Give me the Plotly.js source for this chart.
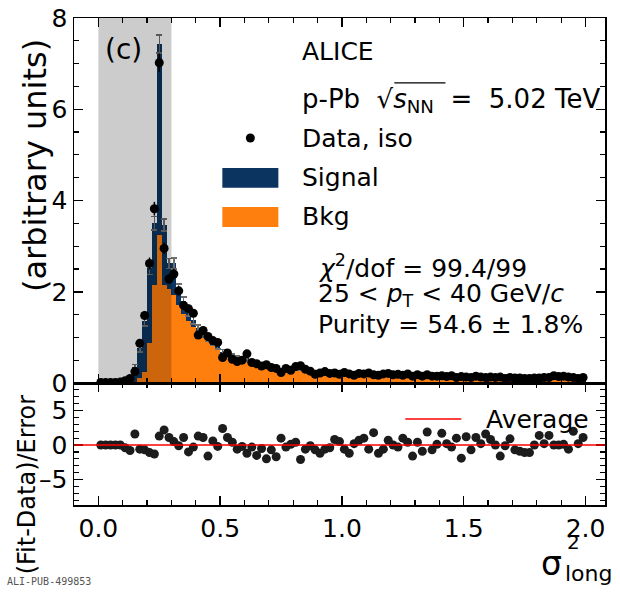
<!DOCTYPE html>
<html>
<head>
<meta charset="utf-8">
<script src="https://cdn.plot.ly/plotly-3.0.1.min.js"></script>
<style>
  body { margin: 0; background: #fff; }
  #graphique { width: 620px; height: 592px; }
</style>
</head>
<body>
<div id="graphique"></div>
<script>
// binning: 100 bins of 0.02 from 0 to 2
var binLow = 0.0;
var binWidth = 0.02;

// data points (per bin)
var dataVals = [
  0.01, 0.01, 0.01, 0.01, 0.02, 0.05, 0.10, 0.25, 0.87, 1.48,
  2.62, 3.82, 7.02, 2.95, 2.28, 2.39, 2.02, 1.70, 1.63, 1.53,
  1.05, 1.15, 1.02, 0.93, 0.89, 0.56, 0.66, 0.52, 0.47, 0.50,
  0.64, 0.45, 0.42, 0.37, 0.40, 0.34, 0.32, 0.23, 0.32, 0.28,
  0.36, 0.38, 0.30, 0.26, 0.19, 0.22, 0.25, 0.21, 0.22, 0.19,
  0.23, 0.20, 0.17, 0.21, 0.20, 0.22, 0.18, 0.17, 0.20, 0.21,
  0.18, 0.19, 0.17, 0.20, 0.15, 0.18, 0.15, 0.18, 0.15, 0.15,
  0.16, 0.14, 0.16, 0.12, 0.14, 0.13, 0.12, 0.15, 0.13, 0.12,
  0.13, 0.12, 0.13, 0.10, 0.12, 0.11, 0.11, 0.10, 0.10, 0.11,
  0.11, 0.12, 0.12, 0.16, 0.14, 0.15, 0.13, 0.12, 0.10, 0.12
];

// erreurs stat (data et fit)
var dataErr = [
  0.01, 0.01, 0.01, 0.01, 0.01, 0.02, 0.03, 0.05, 0.08, 0.10,
  0.13, 0.15, 0.20, 0.13, 0.11, 0.12, 0.10, 0.09, 0.09, 0.09,
  0.07, 0.08, 0.07, 0.07, 0.07, 0.06, 0.06, 0.05, 0.05, 0.05,
  0.06, 0.05, 0.05, 0.05, 0.05, 0.05, 0.04, 0.04, 0.04, 0.04,
  0.05, 0.05, 0.04, 0.04, 0.04, 0.04, 0.04, 0.04, 0.04, 0.04,
  0.04, 0.04, 0.03, 0.04, 0.04, 0.04, 0.03, 0.03, 0.03, 0.04,
  0.03, 0.03, 0.03, 0.03, 0.03, 0.03, 0.03, 0.03, 0.03, 0.03,
  0.03, 0.03, 0.03, 0.03, 0.03, 0.03, 0.03, 0.03, 0.03, 0.03,
  0.03, 0.03, 0.03, 0.03, 0.03, 0.03, 0.03, 0.03, 0.03, 0.03,
  0.03, 0.03, 0.03, 0.03, 0.03, 0.03, 0.03, 0.03, 0.03, 0.03
];

// background template
var bkgVals = [
  0.00, 0.00, 0.00, 0.00, 0.00, 0.00, 0.01, 0.03, 0.12, 0.25,
  0.87, 2.15, 3.25, 2.15, 2.05, 1.93, 1.72, 1.52, 1.36, 1.22,
  1.08, 0.98, 0.90, 0.82, 0.75, 0.62, 0.60, 0.55, 0.50, 0.48,
  0.50, 0.44, 0.40, 0.37, 0.36, 0.32, 0.30, 0.25, 0.28, 0.26,
  0.30, 0.30, 0.27, 0.24, 0.20, 0.21, 0.22, 0.20, 0.20, 0.18,
  0.20, 0.18, 0.16, 0.18, 0.18, 0.19, 0.16, 0.16, 0.17, 0.18,
  0.16, 0.17, 0.15, 0.17, 0.14, 0.15, 0.14, 0.15, 0.14, 0.13,
  0.14, 0.13, 0.14, 0.11, 0.12, 0.12, 0.11, 0.13, 0.11, 0.11,
  0.11, 0.11, 0.11, 0.09, 0.10, 0.10, 0.10, 0.09, 0.09, 0.10,
  0.10, 0.10, 0.10, 0.13, 0.12, 0.12, 0.11, 0.10, 0.09, 0.10
];

// signal template (stacked on bkg)
var sigVals = [
  0.00, 0.00, 0.00, 0.00, 0.00, 0.02, 0.08, 0.33, 0.64, 1.10,
  1.64, 1.35, 4.18, 1.31, 0.57, 0.69, 0.35, 0.28, 0.20, 0.16,
  0.12, 0.10, 0.08, 0.07, 0.06, 0.05, 0.05, 0.04, 0.04, 0.03,
  0.04, 0.03, 0.03, 0.03, 0.03, 0.02, 0.02, 0.02, 0.02, 0.02,
  0.02, 0.02, 0.02, 0.02, 0.02, 0.02, 0.02, 0.02, 0.02, 0.02,
  0.02, 0.02, 0.02, 0.02, 0.02, 0.02, 0.02, 0.02, 0.02, 0.02,
  0.02, 0.02, 0.02, 0.02, 0.01, 0.01, 0.01, 0.01, 0.01, 0.01,
  0.01, 0.01, 0.01, 0.01, 0.01, 0.01, 0.01, 0.01, 0.01, 0.01,
  0.01, 0.01, 0.01, 0.01, 0.01, 0.01, 0.01, 0.01, 0.01, 0.01,
  0.01, 0.01, 0.01, 0.01, 0.01, 0.01, 0.01, 0.01, 0.01, 0.01
];

// (Fit-Data)/Error
var residVals = [
   0.0,  0.0,  0.0,  0.0,  0.0, -0.4, -0.8,  1.6, -0.6, -0.7,
  -1.1, -1.3,  1.3,  2.2,  1.1,  0.5, -0.1,  1.1, -1.0, -0.3,
   1.3,  1.1, -1.6,  0.6, -0.2,  2.4,  1.1,  0.4, -0.6, -0.2,
  -1.2, -0.3, -1.5, -0.5, -2.0, -0.7, -1.7,  1.0, -0.3,  0.1,
   0.4, -2.1, -0.6, -0.1, -0.7, -1.2, -0.6, -0.4,  0.8,  0.5,
  -0.6, -1.2,  0.2,  0.7,  1.0, -0.6,  1.8, -1.2, -0.6,  0.7,
   0.0, -0.3,  1.0,  0.4, -1.6,  0.4, -0.9,  1.9, -0.7,  0.1,
   1.7,  0.2, -0.3,  1.0, -1.9,  1.2, -0.7,  1.1,  0.2,  1.6,
   0.8,  0.0, -1.6, -0.1,  0.9, -0.7, -0.9, -1.1, -1.1,  0.0,
   1.4,  0.2,  1.4,  0.0,  0.0,  0.1, -0.6,  2.0,  0.2,  1.1
];

// ticks du panneau de résidus
var residTicks = [-5, 0, 5];
var residTickText = ['–5', '0', '5'];

var police = 'DejaVu Sans, sans-serif';
var couleurSignal = '#0b3560';
var couleurBkg = '#ff7f0e';

var centres = [];
for (var i = 0; i < dataVals.length; i++) {
  centres.push(binLow + binWidth * (i + 0.5));
}

var traceBkg = {
  x: centres, y: bkgVals, type: 'bar', width: binWidth,
  marker: { color: couleurBkg, line: { width: 0 } },
  xaxis: 'x', yaxis: 'y', hoverinfo: 'skip'
};

var traceSignal = {
  x: centres, y: sigVals, type: 'bar', width: binWidth,
  marker: { color: couleurSignal, line: { width: 0 } },
  error_y: { type: 'data', array: dataErr, visible: true, color: '#6e6e6e', thickness: 1.5, width: 3 },
  xaxis: 'x', yaxis: 'y', hoverinfo: 'skip'
};

var traceData = {
  x: centres, y: dataVals, mode: 'markers', type: 'scatter',
  marker: { color: '#000', size: 9 },
  error_y: { type: 'data', array: dataErr, visible: true, color: '#000', thickness: 1.5, width: 0 },
  xaxis: 'x', yaxis: 'y'
};

var traceResid = {
  x: centres, y: residVals, mode: 'markers', type: 'scatter',
  marker: { color: '#1c1c1c', size: 9 },
  xaxis: 'x2', yaxis: 'y2'
};

function axeBase(extra) {
  var a = {
    showline: true, linecolor: '#000', linewidth: 1.5, mirror: 'ticks',
    ticks: 'inside', ticklen: 9, tickwidth: 1.5, tickcolor: '#000',
    showgrid: false, zeroline: false,
    tickfont: { family: police, size: 25, color: '#000' }
  };
  for (var k in extra) a[k] = extra[k];
  return a;
}

var texte = function(t, x, y, size) {
  return { text: t, x: x, y: y, xref: 'x', yref: 'y', xanchor: 'left', yanchor: 'middle',
           showarrow: false, font: { family: police, size: size || 25, color: '#000' } };
};

var layout = {
  width: 620, height: 592,
  margin: { l: 74, r: 15, t: 18, b: 87 },
  paper_bgcolor: '#fff', plot_bgcolor: '#fff',
  showlegend: false,
  barmode: 'stack', bargap: 0,
  xaxis: axeBase({
    anchor: 'y', domain: [0, 1], range: [-0.1, 2.08], matches: 'x2',
    tick0: 0, dtick: 0.5, showticklabels: false,
    minor: { ticks: 'inside', dtick: 0.1, tick0: 0, ticklen: 5, tickwidth: 1.2, tickcolor: '#000', showgrid: false }
  }),
  yaxis: axeBase({
    anchor: 'x', domain: [0.2505, 1], range: [0, 8], tick0: 0, dtick: 2,
    minor: { ticks: 'inside', dtick: 0.5, tick0: 0, ticklen: 5, tickwidth: 1.2, tickcolor: '#000', showgrid: false }
  }),
  xaxis2: axeBase({
    anchor: 'y2', domain: [0, 1], range: [-0.1, 2.08], tick0: 0, dtick: 0.5, tickformat: '.1f',
    minor: { ticks: 'inside', dtick: 0.1, tick0: 0, ticklen: 5, tickwidth: 1.2, tickcolor: '#000', showgrid: false }
  }),
  yaxis2: axeBase({
    anchor: 'x2', domain: [0, 0.2505], range: [-8.7, 9], tickmode: 'array',
    tickvals: residTicks, ticktext: residTickText,
    minor: { ticks: 'inside', dtick: 1, tick0: 0, ticklen: 5, tickwidth: 1.2, tickcolor: '#000', showgrid: false }
  }),
  shapes: [
    // bande grise 0-0.3
    { type: 'rect', xref: 'x', yref: 'y', x0: 0, x1: 0.3, y0: 0, y1: 8,
      fillcolor: 'rgba(0,0,0,0.2)', line: { width: 0 }, layer: 'above' },
    // légende
    { type: 'circle', xref: 'x', yref: 'y', xsizemode: 'pixel', ysizemode: 'pixel',
      xanchor: 0.624, yanchor: 5.37, x0: -4.5, x1: 4.5, y0: -4.5, y1: 4.5,
      fillcolor: '#000', line: { width: 0 } },
    { type: 'rect', xref: 'x', yref: 'y', x0: 0.509, x1: 0.739, y0: 4.28, y1: 4.71,
      fillcolor: couleurSignal, line: { width: 0 } },
    { type: 'rect', xref: 'x', yref: 'y', x0: 0.509, x1: 0.739, y0: 3.42, y1: 3.86,
      fillcolor: couleurBkg, line: { width: 0 } },
    // racine carrée
    { type: 'line', xref: 'x', yref: 'y', x0: 1.215, x1: 1.425, y0: 6.58, y1: 6.58,
      line: { color: '#000', width: 1.2 } },
    // ligne moyenne
    { type: 'line', xref: 'paper', yref: 'y2', x0: 0, x1: 1, y0: 0, y1: 0,
      line: { color: '#ff0000', width: 1.5 } },
    { type: 'line', xref: 'x2', yref: 'y2', x0: 1.26, x1: 1.49, y0: 3.77, y1: 3.77,
      line: { color: '#ff0000', width: 1.5 } }
  ],
  annotations: [
    texte('(c)', 0.018, 7.3, 28),
    texte('ALICE', 0.828, 7.26),
    texte('p-Pb &nbsp;√<i>s</i><sub>NN</sub>&nbsp; = &nbsp;5.02 TeV', 0.828, 6.2, 26),
    texte('Data, iso', 0.828, 5.37),
    texte('Signal', 0.828, 4.5),
    texte('Bkg', 0.828, 3.64),
    texte('<i>χ</i><sup>2</sup>/dof = 99.4/99', 0.895, 2.55),
    texte('25 &lt; <i>p</i><sub>T</sub> &lt; 40 GeV/<i>c</i>', 0.895, 1.92),
    texte('Purity = 54.6 ± 1.8%', 0.895, 1.28),
    { text: 'Average', x: 1.585, y: 3.77, xref: 'x2', yref: 'y2', xanchor: 'left', yanchor: 'middle',
      showarrow: false, font: { family: police, size: 25, color: '#000' } },
    // titres des axes
    { text: '(arbitrary units)', xref: 'paper', yref: 'paper', x: -0.0735, y: 0.698, textangle: -90,
      xanchor: 'center', yanchor: 'middle', showarrow: false, font: { family: police, size: 32, color: '#000' } },
    { text: '(Fit-Data)/Error', xref: 'paper', yref: 'paper', x: -0.088, y: 0.043, textangle: -90,
      xanchor: 'center', yanchor: 'middle', showarrow: false, font: { family: police, size: 24, color: '#000' } },
    { text: 'σ', xref: 'paper', yref: 'paper', x: 0.9, y: -0.12, xanchor: 'center', yanchor: 'middle',
      showarrow: false, font: { family: police, size: 33, color: '#000' } },
    { text: '2', xref: 'paper', yref: 'paper', x: 0.94, y: -0.075, xanchor: 'center', yanchor: 'middle',
      showarrow: false, font: { family: police, size: 20, color: '#000' } },
    { text: 'long', xref: 'paper', yref: 'paper', x: 0.968, y: -0.14, xanchor: 'center', yanchor: 'middle',
      showarrow: false, font: { family: police, size: 22, color: '#000' } },
    { text: 'ALI-PUB-499853', xref: 'paper', yref: 'paper', x: -0.13, y: -0.158, xanchor: 'left', yanchor: 'middle',
      showarrow: false, font: { family: 'DejaVu Sans Mono, monospace', size: 10, color: '#555' } }
  ]
};

Plotly.newPlot('graphique', [traceBkg, traceSignal, traceData, traceResid], layout, { staticPlot: true });
</script>
</body>
</html>
